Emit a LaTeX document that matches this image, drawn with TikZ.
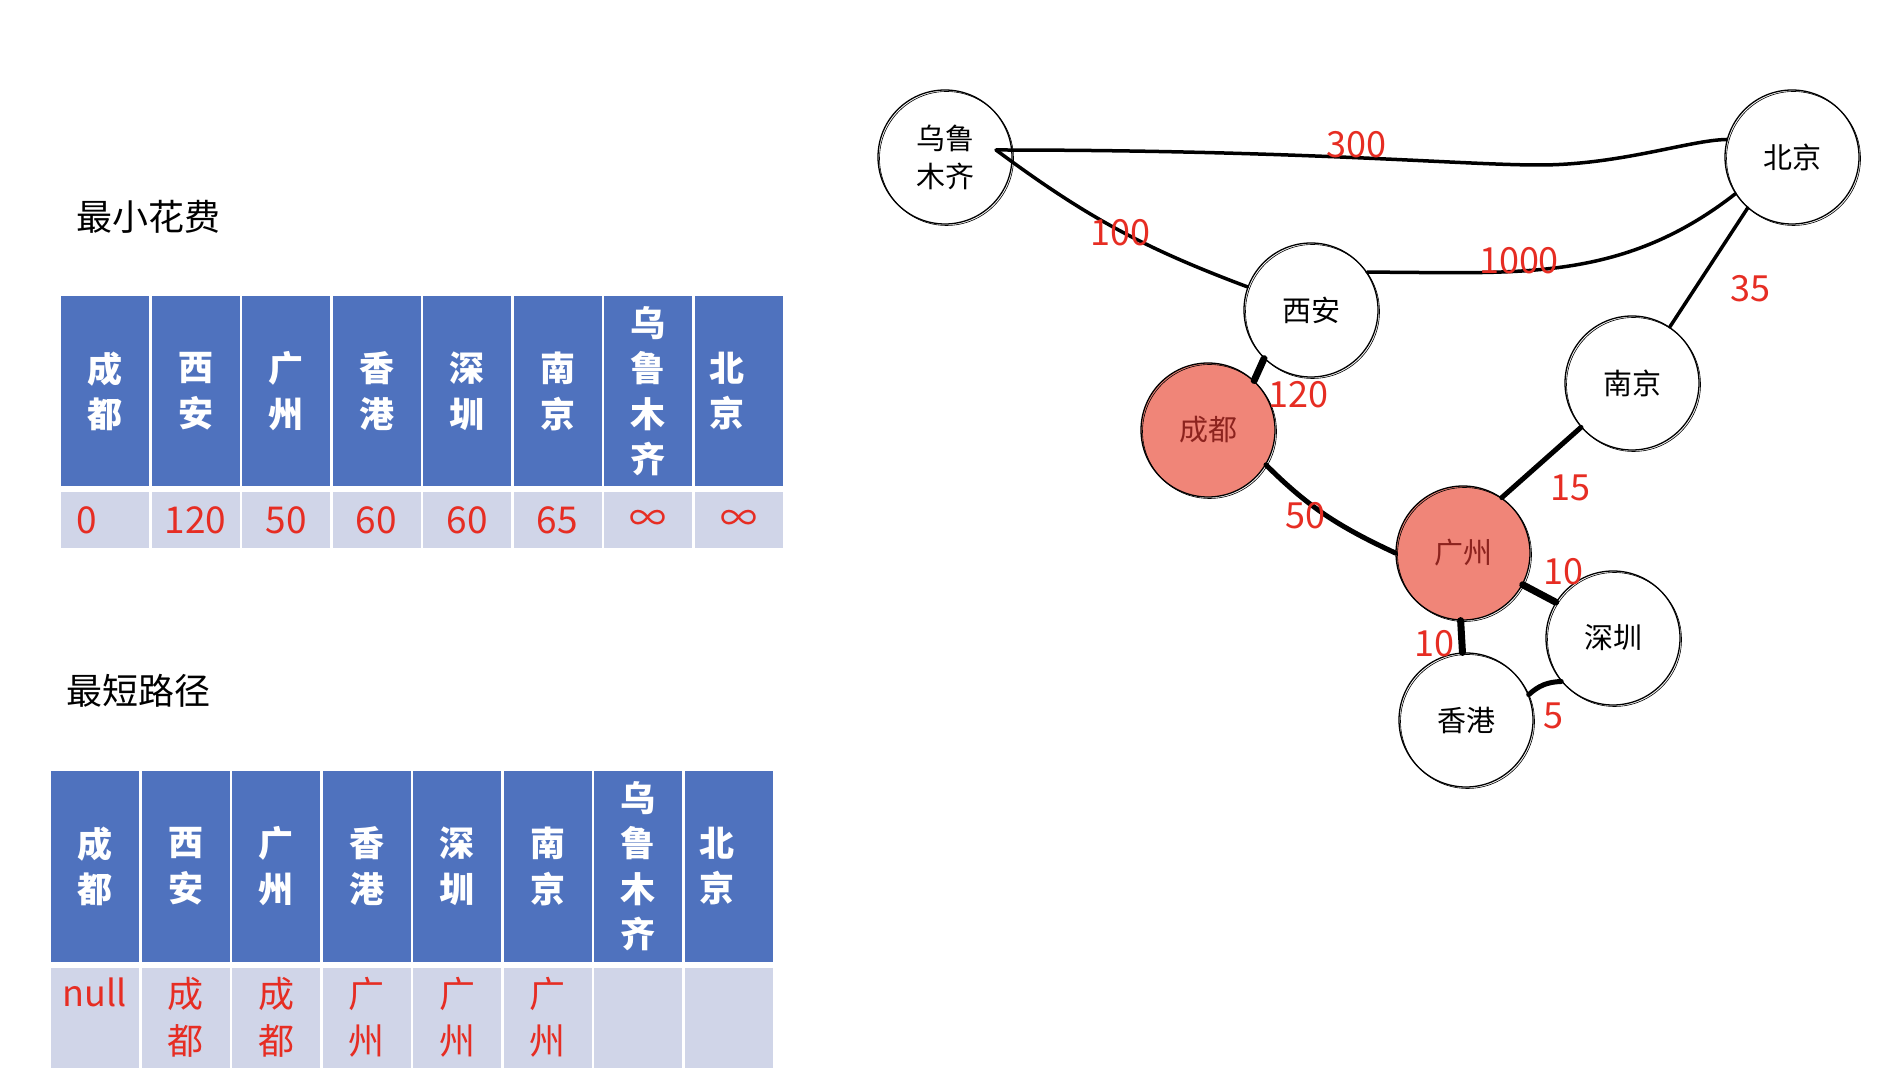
\documentclass[tikz,border=0pt]{standalone}
\usepackage{fontspec}
\newfontfamily\cjk{Noto Sans CJK SC}
\usepackage{xcolor}
\usepackage{tikz}
\usetikzlibrary{positioning}

\definecolor{hdblue}{RGB}{79,114,190}
\definecolor{rowgray}{RGB}{208,213,232}
\definecolor{numred}{RGB}{230,45,35}
\definecolor{hot}{RGB}{240,133,120}
\definecolor{hottext}{RGB}{140,35,30}

\begin{document}
\begin{tikzpicture}[
  x=1pt, y=1pt,
  node distance=6pt and 2.5pt,
  heading/.style={anchor=west, inner sep=0pt, font=\cjk\fontsize{36}{44}\selectfont},
  head/.style={fill=hdblue, text=white, minimum width=88pt, minimum height=190.5pt, inner sep=0pt, outer sep=0pt, align=center, font=\cjk\bfseries\fontsize{35}{45.5}\selectfont},
  lefty/.style={text width=58pt, inner xsep=15pt, align=left},
  cost/.style={fill=rowgray, text=numred, minimum width=88pt, minimum height=56pt, inner sep=0pt, outer sep=0pt, font=\cjk\fontsize{37}{44}\selectfont},
  prev/.style={cost, minimum height=100pt, align=center, font=\cjk\fontsize{36}{47}\selectfont},
  city/.style={circle, draw, line width=1.3pt, minimum size=134pt, inner sep=0pt, align=center, font=\cjk\fontsize{29}{38}\selectfont,
    postaction={draw, line width=0.6pt, transform canvas={xshift=1.5pt, yshift=-1.5pt}}},
  done/.style={city, fill=hot, text=hottext},
  road/.style={line width=3.5pt, line cap=round},
  fat/.style={line width=7pt, line cap=round},
  wt/.style={text=numred, inner sep=0pt, font=\cjk\fontsize{36}{40}\selectfont}
]
\useasboundingbox (0,0) rectangle (1904,1088);

% cost table
\node[heading] (costttl) at (76,871.5) {最小花费};
\node[head, anchor=north west] (c1) at (61,792) {成\\都};
\node[head, right=of c1] (c2) {西\\安};
\node[head, right=of c2] (c3) {广\\州};
\node[head, right=of c3] (c4) {香\\港};
\node[head, right=of c4] (c5) {深\\圳};
\node[head, right=of c5] (c6) {南\\京};
\node[head, right=of c6] (c7) {乌\\鲁\\木\\齐};
\node[head, right=of c7, lefty] (c8) {北\\京};
\node[cost, below=of c1, lefty] (v1) {0};
\node[cost, below=of c2] (v2) {120};
\node[cost, below=of c3] (v3) {50};
\node[cost, below=of c4] (v4) {60};
\node[cost, below=of c5] (v5) {60};
\node[cost, below=of c6] (v6) {65};
\node[cost, below=of c7] (v7) {∞};
\node[cost, below=of c8] (v8) {∞};

% path table
\node[heading] (pathttl) at (66,397.5) {最短路径};
\node[head, anchor=north west] (p1) at (51,317) {成\\都};
\node[head, right=of p1] (p2) {西\\安};
\node[head, right=of p2] (p3) {广\\州};
\node[head, right=of p3] (p4) {香\\港};
\node[head, right=of p4] (p5) {深\\圳};
\node[head, right=of p5] (p6) {南\\京};
\node[head, right=of p6] (p7) {乌\\鲁\\木\\齐};
\node[head, right=of p7, lefty] (p8) {北\\京};
\node[prev, below=of p1] (q1) {null\\\phantom{都}};
\node[prev, below=of p2] (q2) {成\\都};
\node[prev, below=of p3] (q3) {成\\都};
\node[prev, below=of p4] (q4) {广\\州};
\node[prev, below=of p5] (q5) {广\\州};
\node[prev, below=of p6] (q6) {广\\州};
\node[prev, below=of p7] (q7) {};
\node[prev, below=of p8] (q8) {};

% city graph
\node[city] (wlmq) at (945,931) {乌鲁\\木齐};
\node[city] (bj) at (1792,931) {北京};
\node[city] (xa) at (1311,778) {西安};
\node[done] (cd) at (1208,658) {成都};
\node[city] (nj) at (1632,705) {南京};
\node[done] (gz) at (1463,535) {广州};
\node[city] (sz) at (1613,450) {深圳};
\node[city] (hk) at (1466,368) {香港};
\coordinate (wlmqhub) at ([xshift=51pt, yshift=7pt]wlmq.center);

\draw[road] (wlmqhub) .. controls (1300,938) and (1460,923) .. (1539,923) .. controls (1620,923) and (1690,948) .. (bj.165);
\draw[road] (wlmqhub) to[bend right=8] (xa.160);
\draw[road] (xa.34) to[out=0, in=218] (bj.213);
\draw[road] (bj.229) -- (nj.56);
\draw[fat] (xa.226) -- (cd.47);
\draw[road, line width=5pt] (cd.-31) to[out=-45, in=155] (gz.180);
\draw[road, line width=5pt] (nj.221) -- (gz.55);
\draw[fat] (gz.-28) -- (sz.148);
\draw[fat] (gz.268) -- (hk.93);
\draw[road, line width=5pt] (hk.22) to[bend left=20] (sz.220);

\node[wt] (w300) at (1356,943) {300};
\node[wt] (w100) at (1120,855) {100};
\node[wt] (w1000) at (1519,827) {1000};
\node[wt] (w35) at (1750,799) {35};
\node[wt] (w120) at (1298,693) {120};
\node[wt] (w50) at (1305,572) {50};
\node[wt] (w15) at (1570,600) {15};
\node[wt] (w10a) at (1563,516) {10};
\node[wt] (w10b) at (1434,444) {10};
\node[wt] (w5) at (1553,372) {5};
\end{tikzpicture}
\end{document}
